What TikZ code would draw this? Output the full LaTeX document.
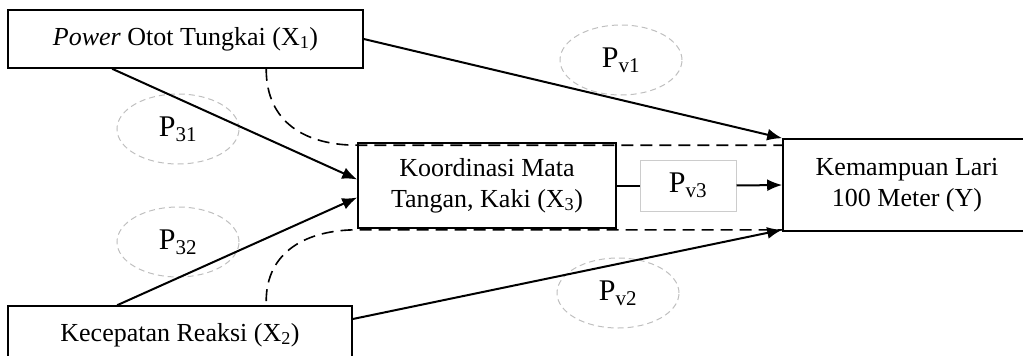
\documentclass[tikz,border=0pt]{standalone}
\usepackage{fontspec}
\setmainfont{Liberation Serif}
\usetikzlibrary{shapes.geometric,arrows.meta}
\tikzset{
  box/.style={draw,line width=1.6pt,inner sep=0pt,font=\fontsize{26}{31}\selectfont,align=center},
  koef/.style={draw=black!25,dashed,dash pattern=on 6pt off 4pt,line width=1pt,ellipse,minimum width=122pt,minimum height=70pt,inner sep=0pt,font=\fontsize{30}{34}\selectfont},
  panah/.style={line width=2pt,-{Latex[length=15pt,width=12pt]}},
  putus/.style={line width=1.6pt,dash pattern=on 12pt off 7pt}
}
\begin{document}
\begin{tikzpicture}[x=1pt,y=-1pt]
\path[use as bounding box,clip] (0,0) rectangle (1023,356);
\node[koef] (p31) at (178,129) {P\textsubscript{31}};
\node[koef] (p32) at (178,242) {P\textsubscript{32}};
\node[koef] (pv1) at (621,60) {P\textsubscript{v1}};
\node[koef] (pv2) at (618,293) {P\textsubscript{v2}};
\node[box,minimum width=355pt,minimum height=58pt] (x1) at (185.5,39) {\textit{Power} Otot Tungkai (X\textsubscript{1})};
\node[box,minimum width=344pt,minimum height=58pt] (x2) at (180,335) {Kecepatan Reaksi (X\textsubscript{2})};
\node[box,minimum width=258pt,minimum height=85pt] (x3) at (487,185.5) {Koordinasi Mata\\Tangan, Kaki (X\textsubscript{3})};
\node[box,minimum width=248pt,minimum height=92pt] (y) at (907,185) {Kemampuan Lari\\100 Meter (Y)};
\node[box,draw=black!20,line width=1pt,minimum width=96pt,minimum height=51pt,font=\fontsize{30}{34}\selectfont] (pv3) at (688,185.5) {P\textsubscript{v3}};
\draw[panah] (x1.east)--(y.north west);
\draw[panah] ([xshift=105pt]x1.south west)--([yshift=6pt]x3.west);
\draw[panah] ([xshift=110pt]x2.north west)--([yshift=-12pt]x3.west);
\draw[panah] ([yshift=16pt]x2.east)--([yshift=2pt]y.south west);
\draw[line width=2pt] (x3.east)--(pv3.west);
\draw[panah] (pv3.east)--(y.west);
\draw[putus] ([xshift=259pt]x1.south west) .. controls +(0,55) and +(-50,0) .. ([yshift=-3pt]x3.north west)--([yshift=-7pt]y.north west);
\draw[putus] ([xshift=259pt,yshift=4pt]x2.north west) .. controls +(0,-50) and +(-50,0) .. ([yshift=-1pt]x3.south west)--([yshift=2pt]y.south west);
\end{tikzpicture}
\end{document}
